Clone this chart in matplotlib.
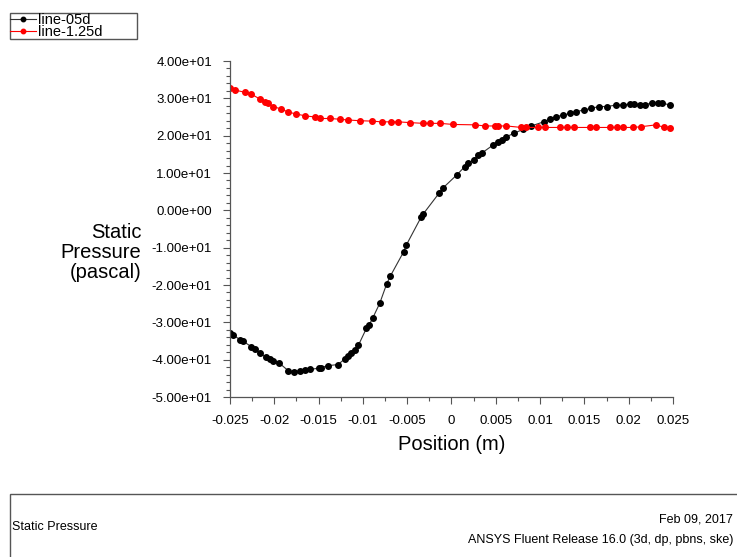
import matplotlib
matplotlib.use("Agg")
import matplotlib.pyplot as plt
from matplotlib.patches import Rectangle
from matplotlib.ticker import MultipleLocator, FuncFormatter

plt.rcParams['font.family'] = ['Liberation Sans', 'DejaVu Sans']

# line-05d (black)
x_05d = [-0.0250, -0.0247, -0.0239, -0.0235, -0.0226, -0.0222, -0.0216, -0.0209, -0.0205, -0.0201,
         -0.0195, -0.0184, -0.0178, -0.0171, -0.0165, -0.0160, -0.0150, -0.0147, -0.0139, -0.0128,
         -0.0120, -0.0117, -0.0113, -0.0109, -0.0105, -0.0096, -0.0093, -0.0089, -0.0081, -0.0073,
         -0.0069, -0.0054, -0.0051, -0.0034, -0.0032, -0.0014, -0.0010, 0.0006, 0.0015, 0.0019,
         0.0025, 0.0030, 0.0034, 0.0047, 0.0053, 0.0057, 0.0062, 0.0070, 0.0081, 0.0090,
         0.0104, 0.0111, 0.0118, 0.0126, 0.0134, 0.0141, 0.0149, 0.0158, 0.0166, 0.0175,
         0.0186, 0.0194, 0.0201, 0.0206, 0.0213, 0.0218, 0.0226, 0.0233, 0.0238, 0.0247]
p_05d = [-32.9, -33.3, -34.6, -35.1, -36.5, -37.2, -38.3, -39.4, -39.9, -40.3,
         -40.8, -43.0, -43.3, -43.0, -42.9, -42.6, -42.3, -42.1, -41.6, -41.3,
         -39.7, -39.0, -38.1, -37.4, -36.1, -31.6, -30.7, -28.9, -24.9, -19.6,
         -17.6, -11.1, -9.3, -1.7, -1.0, 4.6, 5.9, 9.5, 11.7, 12.6,
         13.5, 14.8, 15.3, 17.5, 18.4, 18.8, 19.7, 20.6, 21.7, 22.6,
         23.7, 24.4, 25.1, 25.5, 26.0, 26.4, 26.9, 27.3, 27.8, 27.8,
         28.2, 28.2, 28.5, 28.5, 28.2, 28.2, 28.8, 28.7, 28.7, 28.2]

# line-1.25d (red)
x_125d = [-0.0250, -0.0244, -0.0233, -0.0226, -0.0216, -0.0210, -0.0207, -0.0201, -0.0192, -0.0184,
          -0.0175, -0.0165, -0.0154, -0.0148, -0.0137, -0.0126, -0.0117, -0.0103, -0.0090, -0.0079,
          -0.0068, -0.0060, -0.0047, -0.0032, -0.0024, -0.0013, 0.0002, 0.0026, 0.0038, 0.0049,
          0.0053, 0.0062, 0.0079, 0.0084, 0.0098, 0.0105, 0.0122, 0.0130, 0.0138, 0.0156,
          0.0163, 0.0179, 0.0187, 0.0194, 0.0205, 0.0214, 0.0231, 0.0240, 0.0247]
p_125d = [32.7, 32.2, 31.6, 31.1, 29.8, 29.1, 28.7, 27.8, 27.1, 26.3,
          25.8, 25.3, 25.0, 24.6, 24.6, 24.4, 24.2, 24.0, 23.9, 23.7,
          23.7, 23.7, 23.5, 23.3, 23.3, 23.3, 23.0, 22.9, 22.6, 22.6,
          22.6, 22.6, 22.2, 22.2, 22.2, 22.2, 22.2, 22.2, 22.2, 22.2,
          22.2, 22.2, 22.2, 22.2, 22.2, 22.4, 22.9, 22.2, 22.1]

W, H = 737, 557
fig = plt.figure(figsize=(W / 100, H / 100), dpi=100)
ax = fig.add_axes([230 / W, 1 - 397 / H, 443 / W, 336 / H])

l1, = ax.plot(x_05d, p_05d, color='#333333', lw=0.8, marker='o', ms=4,
              mfc='black', mec='black', label='line-05d')
l2, = ax.plot(x_125d, p_125d, color='red', lw=0.8, marker='o', ms=4,
              mfc='red', mec='red', label='line-1.25d')

ax.set_xlim(-0.025, 0.025)
ax.set_ylim(-50, 40)
ax.xaxis.set_major_locator(MultipleLocator(0.005))
ax.xaxis.set_minor_locator(MultipleLocator(0.0025))
ax.yaxis.set_major_locator(MultipleLocator(10))
ax.yaxis.set_minor_locator(MultipleLocator(2))
ax.xaxis.set_major_formatter(FuncFormatter(lambda v, p: '%g' % round(v, 4) if abs(v) > 1e-9 else '0'))
ax.yaxis.set_major_formatter(FuncFormatter(lambda v, p: '%.2e' % (0.0 if abs(v) < 1e-9 else v)))

for s in ['top', 'right']:
    ax.spines[s].set_visible(False)
for s in ['left', 'bottom']:
    ax.spines[s].set_color('#555555')
    ax.spines[s].set_linewidth(0.9)
ax.tick_params(which='major', direction='out', length=5, width=0.8, color='#555555',
               labelsize=9.5, pad=8)
ax.tick_params(which='minor', direction='out', length=3, width=0.8, color='#555555')

ax.set_xlabel('Position (m)', fontsize=14.5, labelpad=6)
ax.set_ylabel('Static\nPressure\n(pascal)', fontsize=14.5, rotation=0,
              ha='right', va='center', multialignment='right', linespacing=1.05)
ax.yaxis.set_label_coords(-0.2, 0.43)

# legend box in the top-left corner
fig.patches.append(Rectangle((10 / W, 1 - 39 / H), 127 / W, 26 / H, transform=fig.transFigure,
                             fill=False, edgecolor='#555555', lw=1))
fig.legend(handles=[l1, l2], loc='upper left', bbox_to_anchor=(10 / W, 1 - 13 / H),
           frameon=False, fontsize=10.5, borderpad=0.0, labelspacing=-0.15,
           handlelength=1.8, handletextpad=0.1, borderaxespad=0, markerscale=0.8)

# footer box
fig.patches.append(Rectangle((10 / W, -0.01), 1.0, (557 - 494) / H + 0.01, transform=fig.transFigure,
                             fill=False, edgecolor='#555555', lw=1))
fig.text(12 / W, 1 - 527 / H, 'Static Pressure', fontsize=9, ha='left', va='center')
fig.text(733 / W, 1 - 520 / H, 'Feb 09, 2017', fontsize=9, ha='right', va='center')
fig.text(733 / W, 1 - 540 / H, 'ANSYS Fluent Release 16.0 (3d, dp, pbns, ske)', fontsize=9,
         ha='right', va='center')

fig.savefig('out.png', dpi=100)
